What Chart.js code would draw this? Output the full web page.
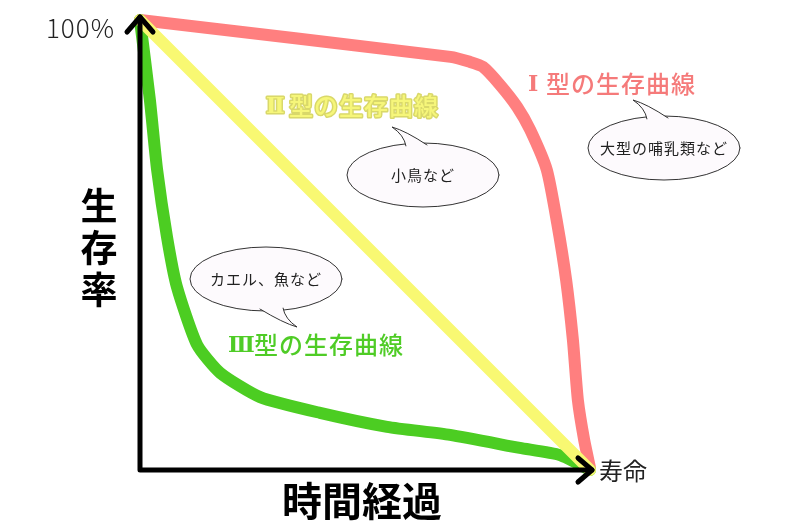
<!DOCTYPE html>
<html>
<head>
<meta charset="utf-8">
<script src="https://cdn.jsdelivr.net/npm/chart.js@4/dist/chart.umd.min.js"></script>
<style>
  html,body{margin:0;padding:0;background:#fff}
  #wrap{width:800px;height:531px;position:relative}
</style>
</head>
<body>
<div id="wrap"><canvas id="c"></canvas></div>
<script>
// survival curves, x = time elapsed (% of lifespan), y = survival rate (%)
const redX = [0, 69, 73.3, 76.2, 80, 83.8, 86.7, 90.4, 92.7, 94.7, 96.2, 97.3, 98.7, 100];
const redY = [100, 91.8, 90.7, 89.6, 85.6, 80.7, 75.6, 66.7, 54.9, 42.2, 28.9, 15.6, 6.7, 0.5];
const yellowX = [0, 100];
const yellowY = [100, 0];
const greenX = [0, 2.2, 3.8, 6, 8.2, 12.7, 17.8, 26.7, 40, 54.9, 68.9, 84.4, 93.3, 100];
const greenY = [100, 82.2, 66.7, 51.8, 40.7, 27.8, 21.6, 16.2, 12.7, 9.6, 7.8, 4.9, 3.3, 0];

const seriesNames = ['Ⅰ型の生存曲線', 'Ⅱ型の生存曲線', 'Ⅲ型の生存曲線'];
const axisTexts = {top:'100%', end:'寿命', x:'時間経過', y:'生存率'};
const bubbleTexts = ['大型の哺乳類など', '小鳥など', 'カエル、魚など'];

const FONT = "'Noto Sans CJK JP','Noto Sans',sans-serif";
const NUM_FONT = "'DejaVu Serif','Liberation Serif',serif";
function pts(xs, ys){ return xs.map((x,i)=>({x, y: ys[i]})); }

// roman numeral in a serif face, rest in the CJK face
function drawName(ctx, name, x, restX, y, fill, stroke){
  const num = name[0], rest = name.slice(1);
  ctx.font = 'bold 22px ' + NUM_FONT;
  if (stroke) ctx.strokeText(num, x, y + 1);
  ctx.fillStyle = fill; ctx.fillText(num, x, y + 1);
  ctx.font = '500 24px ' + FONT;
  ctx.letterSpacing = '1px';
  if (stroke) ctx.strokeText(rest, restX, y);
  ctx.fillStyle = fill; ctx.fillText(rest, restX, y);
  ctx.letterSpacing = '0px';
}

function drawBubble(ctx, cx, cy, text, down){
  const rx = 76, ry = 32, s = down ? -1 : 1;
  ctx.save();
  ctx.lineWidth = 1; ctx.strokeStyle = '#333'; ctx.fillStyle = '#fdfafd';
  ctx.beginPath(); ctx.ellipse(cx, cy, rx, ry, 0, 0, Math.PI*2); ctx.fill(); ctx.stroke();
  // tail
  const b1x = cx + (down ? 17 : -17), b2x = cx + (down ? -6 : 4);
  const by = cy - s*31;
  const tx = cx + (down ? 31 : -31), ty = cy - s*48;
  ctx.beginPath();
  ctx.moveTo(b1x, by + s*2);
  ctx.quadraticCurveTo(b1x - (down?-2:2), ty + s*8, tx, ty);
  ctx.quadraticCurveTo(tx + (down?-14:14), ty + s*4, b2x, by + s*1);
  ctx.fill(); ctx.stroke();
  ctx.beginPath();
  ctx.moveTo(b1x, by + s*2.5); ctx.lineTo(b2x, by + s*1.5);
  ctx.lineTo(b2x, by + s*6); ctx.lineTo(b1x, by + s*6); ctx.closePath();
  ctx.fill();
  ctx.fillStyle = '#222'; ctx.font = '15px ' + FONT;
  ctx.textAlign = 'center'; ctx.textBaseline = 'middle';
  ctx.letterSpacing = '1px';
  ctx.fillText(text, cx, cy);
  ctx.restore();
}

const axesPlugin = {
  id: 'axesArrows',
  afterDatasetsDraw(chart){
    const {ctx, scales:{x, y}} = chart;
    const x0 = x.getPixelForValue(0), x1 = x.getPixelForValue(100);
    const y0 = y.getPixelForValue(0), y1 = y.getPixelForValue(100);
    const ax = x1 + 2, ay = y1 - 3;
    ctx.save();
    // axes with arrow heads
    ctx.strokeStyle = '#000'; ctx.lineWidth = 5; ctx.lineCap = 'round'; ctx.lineJoin = 'round';
    ctx.beginPath(); ctx.moveTo(x0, ay); ctx.lineTo(x0, y0); ctx.lineTo(ax, y0); ctx.stroke();
    ctx.beginPath(); ctx.moveTo(x0 - 13, ay + 15); ctx.lineTo(x0, ay); ctx.lineTo(x0 + 13, ay + 15); ctx.stroke();
    ctx.beginPath(); ctx.moveTo(ax - 14, y0 - 12); ctx.lineTo(ax, y0); ctx.lineTo(ax - 14, y0 + 12); ctx.stroke();

    ctx.textBaseline = 'middle';
    ctx.fillStyle = '#222'; ctx.font = '300 26px ' + FONT; ctx.textAlign = 'right';
    ctx.letterSpacing = '1px';
    ctx.fillText(axisTexts.top, x0 - 25, y1 + 8);
    ctx.letterSpacing = '0px';
    ctx.font = '24px ' + FONT; ctx.textAlign = 'left';
    ctx.fillText(axisTexts.end, x1 + 9, y0 + 1);
    ctx.fillStyle = '#000'; ctx.font = 'bold 40px ' + FONT; ctx.textAlign = 'center';
    ctx.fillText(axisTexts.x, (x0 + x1) / 2 - 3, y0 + 31);
    ctx.font = 'bold 37px ' + FONT;
    [...axisTexts.y].forEach((ch, i) => ctx.fillText(ch, x0 - 41, 206 + i * 42));

    // curve names
    ctx.textAlign = 'left';
    drawName(ctx, seriesNames[0], 528, 546, 84, '#f57a7a', false);
    ctx.lineWidth = 3; ctx.strokeStyle = '#d9d86a'; ctx.lineJoin = 'round';
    drawName(ctx, seriesNames[1], 266, 289, 106, '#f6f67a', true);
    drawName(ctx, seriesNames[2], 228, 254, 345, '#4fcc26', false);

    drawBubble(ctx, 664, 148, bubbleTexts[0], false);
    drawBubble(ctx, 423, 175, bubbleTexts[1], false);
    drawBubble(ctx, 266, 279, bubbleTexts[2], true);
    ctx.restore();
  }
};

new Chart(document.getElementById('c'), {
  type: 'line',
  data: {
    datasets: [
      {label: seriesNames[0], data: pts(redX, redY), borderColor: '#ff7f7f', borderWidth: 12, tension: 0.2, clip: false, pointRadius: 0, order: 3},
      {label: seriesNames[2], data: pts(greenX, greenY), borderColor: '#4ccd22', borderWidth: 12, tension: 0.2, clip: false, pointRadius: 0, order: 2},
      {label: seriesNames[1], data: pts(yellowX, yellowY), borderColor: '#f8f872', borderWidth: 12, tension: 0, clip: false, pointRadius: 0, order: 1}
    ]
  },
  options: {
    responsive: true, maintainAspectRatio: false, animation: false,
    layout: {padding: {left: 140, right: 210, top: 20, bottom: 61}},
    elements: {line: {borderCapStyle: 'round', borderJoinStyle: 'round'}},
    scales: {
      x: {type: 'linear', min: 0, max: 100, display: false},
      y: {type: 'linear', min: 0, max: 100, display: false}
    },
    plugins: {legend: {display: false}, tooltip: {enabled: false}}
  },
  plugins: [axesPlugin]
});
</script>
</body>
</html>
